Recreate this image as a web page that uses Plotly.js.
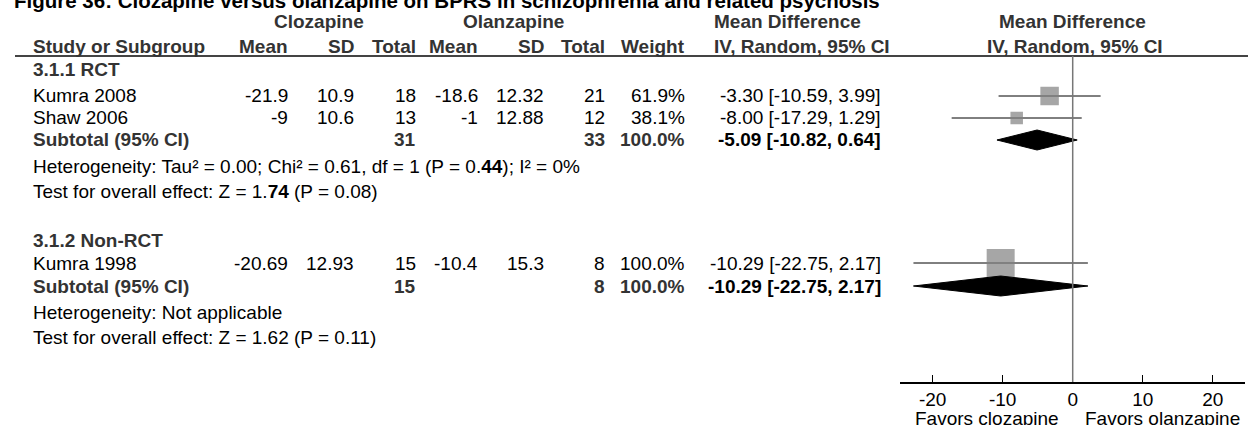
<!DOCTYPE html>
<html><head><meta charset="utf-8">
<script src="https://cdn.plot.ly/plotly-3.0.1.min.js"></script>
<style>html,body{margin:0;padding:0;background:#fff}</style>
</head><body><div id="chart" style="width:1248px;height:425px"></div>
<script>
// ---------- data ----------
const studies = ['Kumra 2008', 'Shaw 2006', 'Kumra 1998'];
const studyGroup = [0, 0, 1];
const cloMean = [-21.9, -9, -20.69];
const cloSD = [10.9, 10.6, 12.93];
const cloTotal = [18, 13, 15];
const olaMean = [-18.6, -1, -10.4];
const olaSD = [12.32, 12.88, 15.3];
const olaTotal = [21, 12, 8];
const weights = [61.9, 38.1, 100.0];
const md = [-3.30, -8.00, -10.29];
const ciLow = [-10.59, -17.29, -22.75];
const ciHigh = [3.99, 1.29, 2.17];

const groups = ['3.1.1 RCT', '3.1.2 Non-RCT'];
const subCloTotal = [31, 15];
const subOlaTotal = [33, 8];
const subWeight = [100.0, 100.0];
const subMd = [-5.09, -10.29];
const subLow = [-10.82, -22.75];
const subHigh = [0.64, 2.17];
const heterogeneity = [
  'Heterogeneity: Tau² = 0.00; Chi² = 0.61, df = 1 (P = 0.<b>44</b>); I² = 0%',
  'Heterogeneity: Not applicable'
];
const overallTest = [
  'Test for overall effect: Z = 1.<b>74</b> (P = 0.08)',
  'Test for overall effect: Z = 1.62 (P = 0.11)'
];
const tickValues = [-20, -10, 0, 10, 20];
const tickLabels = ['-20', '-10', '0', '10', '20'];
const favorLabels = ['Favors clozapine', 'Favors olanzapine'];
const titleText = 'Figure 36: Clozapine versus olanzapine on BPRS in schizophrenia and related psychosis';
const colHeads1 = ['Clozapine', 'Olanzapine', 'Mean Difference', 'Mean Difference'];
const colHeads2 = ['Study or Subgroup', 'Mean', 'SD', 'Total', 'Mean', 'SD', 'Total', 'Weight', 'IV, Random, 95% CI', 'IV, Random, 95% CI'];

// ---------- layout geometry (pixels) ----------
const W = 1248, H = 425;
const px = x => x / W;
const py = y => 1 - y / H;
const FONT = 'Liberation Sans, Arial, Helvetica, sans-serif';
const FS = 19;
const studyRowY = [96, 118, 263];
const groupRowY = [69, 240];
const subRowY = [140, 286];
const hetRowY = [166, 312];
const testRowY = [191, 337];
const head1Y = 21, head2Y = 46, headLineY = 56, axisY = 382, favorY = 418;
const colX = {name: 31, cMean: 290, cSD: 356, cTot: 418, oMean: 480, oSD: 546, oTot: 607, wt: 687, ci: 883, ciLeft: 712};
const zeroPx = 1072.7, pxPerUnit = 7;
const plotL = 900.4, plotR = 1245;
const xMin = (plotL - zeroPx) / pxPerUnit, xMax = (plotR - zeroPx) / pxPerUnit;
const DIAMOND_H = 10;

const ann = [];
function T(text, x, y, anchor, opts) {
  opts = opts || {};
  ann.push({
    text: text, x: px(x), y: py(y), xref: 'paper', yref: 'paper',
    xanchor: anchor, yanchor: 'middle', showarrow: false,
    font: {family: FONT, size: opts.size || FS, color: opts.color || '#000'}
  });
}
const B = s => '<b>' + s + '</b>';
const ciStr = (m, l, h) => m.toFixed(2) + ' [' + l.toFixed(2) + ', ' + h.toFixed(2) + ']';

// title (cut off at top)
T(B(titleText), 12, 1, 'left', {size: 20.5});

// headers
T(B(colHeads1[0]), 319, head1Y, 'center', {color: '#333'});
T(B(colHeads1[1]), 513, head1Y, 'center', {color: '#333'});
T(B(colHeads1[2]), colX.ciLeft, head1Y, 'left', {color: '#333'});
T(B(colHeads1[3]), zeroPx, head1Y, 'center', {color: '#333'});
T(B(colHeads2[0]), colX.name, head2Y, 'left', {color: '#333'});
T(B(colHeads2[1]), colX.cMean, head2Y, 'right', {color: '#333'});
T(B(colHeads2[2]), colX.cSD, head2Y, 'right', {color: '#333'});
T(B(colHeads2[3]), colX.cTot, head2Y, 'right', {color: '#333'});
T(B(colHeads2[4]), colX.oMean, head2Y, 'right', {color: '#333'});
T(B(colHeads2[5]), colX.oSD, head2Y, 'right', {color: '#333'});
T(B(colHeads2[6]), colX.oTot, head2Y, 'right', {color: '#333'});
T(B(colHeads2[7]), colX.wt, head2Y, 'right', {color: '#333'});
T(B(colHeads2[8]), colX.ciLeft, head2Y, 'left', {color: '#333'});
T(B(colHeads2[9]), zeroPx + 2, head2Y, 'center', {color: '#333'});

// study rows
studies.forEach((s, i) => {
  const y = studyRowY[i];
  T(s, colX.name, y, 'left');
  T(String(cloMean[i]), colX.cMean, y, 'right');
  T(String(cloSD[i]), colX.cSD, y, 'right');
  T(String(cloTotal[i]), colX.cTot, y, 'right');
  T(String(olaMean[i]), colX.oMean, y, 'right');
  T(String(olaSD[i]), colX.oSD, y, 'right');
  T(String(olaTotal[i]), colX.oTot, y, 'right');
  T(weights[i].toFixed(1) + '%', colX.wt, y, 'right');
  T(ciStr(md[i], ciLow[i], ciHigh[i]), colX.ci, y, 'right');
});

// group rows
groups.forEach((g, k) => {
  T(B(g), colX.name, groupRowY[k], 'left', {color: '#333'});
  const y = subRowY[k];
  T(B('Subtotal (95% CI)'), colX.name, y, 'left', {color: '#333'});
  T(B(String(subCloTotal[k])), colX.cTot, y, 'right', {color: '#333'});
  T(B(String(subOlaTotal[k])), colX.oTot, y, 'right', {color: '#333'});
  T(B(subWeight[k].toFixed(1) + '%'), colX.wt, y, 'right', {color: '#333'});
  T(B(ciStr(subMd[k], subLow[k], subHigh[k])), colX.ci, y, 'right', {color: '#000'});
  T(heterogeneity[k], colX.name, hetRowY[k], 'left');
  T(overallTest[k], colX.name, testRowY[k], 'left');
});

// favors labels
T(favorLabels[0], zeroPx - 12, favorY, 'right');
T(favorLabels[1], zeroPx + 10, favorY, 'left');

// ---------- traces ----------
const traces = [];
const lx = [], ly = [];
studies.forEach((s, i) => { lx.push(ciLow[i], ciHigh[i], null); ly.push(studyRowY[i], studyRowY[i], null); });
traces.push({x: lx, y: ly, type: 'scatter', mode: 'lines', line: {color: '#000', width: 1}, hoverinfo: 'skip'});
traces.push({
  x: md, y: studyRowY, type: 'scatter', mode: 'markers',
  marker: {symbol: 'square', color: '#808080', size: weights.map(w => 3 + 0.25 * w), line: {width: 0}},
  hoverinfo: 'skip'
});
groups.forEach((g, k) => {
  const y = subRowY[k];
  traces.push({
    x: [subLow[k], subMd[k], subHigh[k], subMd[k], subLow[k]],
    y: [y, y - DIAMOND_H, y, y + DIAMOND_H, y],
    type: 'scatter', mode: 'lines', fill: 'toself', fillcolor: '#000',
    line: {color: '#000', width: 1}, hoverinfo: 'skip'
  });
});

const layout = {
  width: W, height: H,
  margin: {l: 0, r: 0, t: 0, b: 0, pad: 0},
  paper_bgcolor: '#fff', plot_bgcolor: 'rgba(0,0,0,0)',
  showlegend: false,
  xaxis: {
    domain: [px(plotL), px(plotR)], range: [xMin, xMax],
    anchor: 'free', position: py(axisY),
    showline: true, linecolor: '#000', linewidth: 1.5,
    ticks: 'inside', ticklen: 7, tickwidth: 1.5, tickcolor: '#000',
    tickvals: tickValues, ticktext: tickLabels,
    tickfont: {family: FONT, size: FS, color: '#000'},
    showgrid: false, zeroline: false, fixedrange: true
  },
  yaxis: {domain: [0, 1], range: [H, 0], visible: false, fixedrange: true},
  shapes: [
    {type: 'line', xref: 'paper', yref: 'paper', x0: px(15), x1: 1, y0: py(headLineY), y1: py(headLineY), line: {color: '#444', width: 2}},
    {type: 'line', xref: 'x', yref: 'y', x0: 0, x1: 0, y0: headLineY, y1: axisY, line: {color: '#777', width: 1.5}}
  ],
  annotations: ann
};

Plotly.newPlot('chart', traces, layout, {displayModeBar: false, staticPlot: true});
</script>
</body></html>
